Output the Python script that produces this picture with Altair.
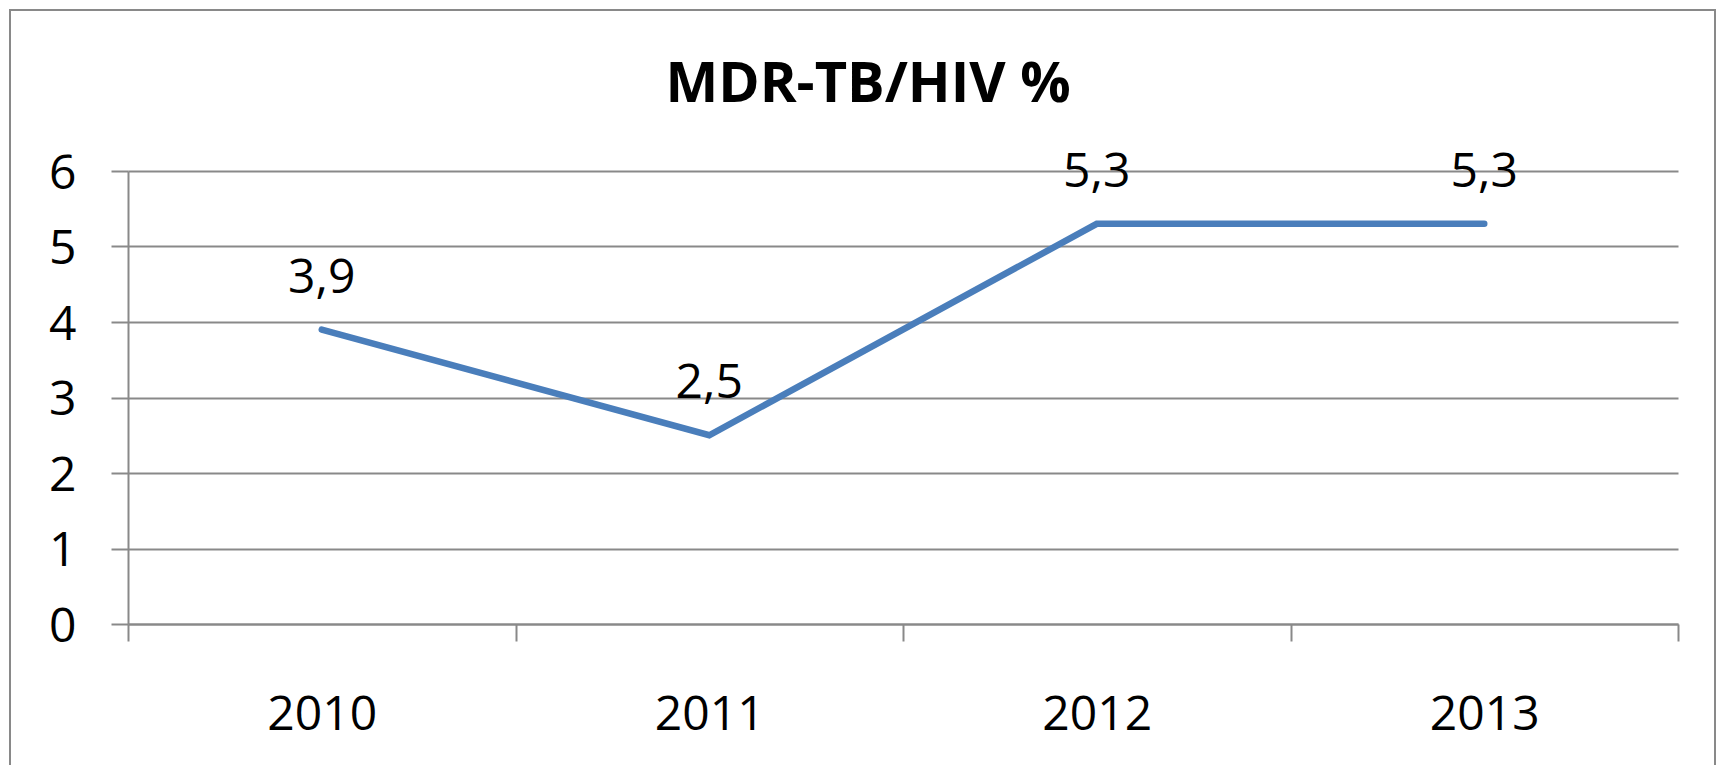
import altair as alt
import pandas as pd

years = ["2010", "2011", "2012", "2013"]
values = [3.9, 2.5, 5.3, 5.3]
value_labels = ["3,9", "2,5", "5,3", "5,3"]
y_ticks = [0, 1, 2, 3, 4, 5, 6]

df = pd.DataFrame({"year": years, "value": values, "label": value_labels})

GRAY = "#898989"
FONT = "Open Sans"
BLUE = "#4A7EBB"

x_enc = alt.X(
    "year:O",
    scale=alt.Scale(type="band", paddingInner=0, paddingOuter=0),
    bandPosition=0.5,
    axis=alt.Axis(
        title=None, labelAngle=0, labelFontSize=48, labelFont=FONT,
        labelColor="black", labelPadding=50, tickBand="extent", tickSize=17,
        tickColor=GRAY, tickWidth=2, domainColor=GRAY, domainWidth=2, grid=False,
    ),
)
y_enc = alt.Y(
    "value:Q",
    scale=alt.Scale(domain=[0, 6], nice=False),
    axis=alt.Axis(
        values=y_ticks, title=None, labelFontSize=48, labelFont=FONT,
        labelColor="black", labelPadding=35, tickSize=17, tickColor=GRAY,
        tickWidth=2, domainColor=GRAY, domainWidth=2, gridColor=GRAY,
        gridWidth=2, format="d", labelOffset=3,
    ),
)

base = alt.Chart(df)

line = base.mark_line(color=BLUE, strokeWidth=6.5, strokeCap="round",
                      strokeJoin="miter").encode(x=x_enc, y=y_enc)
labels = base.mark_text(font=FONT, fontSize=48, baseline="alphabetic", dy=-37,
                        color="black").encode(x=x_enc, y=y_enc, text="label:N")

border = alt.Chart(pd.DataFrame({"k": [0]})).mark_rect(
    fill=None, stroke=GRAY, strokeWidth=2
).encode(
    x=alt.value(-118), x2=alt.value(1587),
    y=alt.value(-161), y2=alt.value(700),
)

chart = alt.layer(border, line, labels).properties(
    width=1550,
    height=453,
    title=alt.TitleParams(
        "MDR-TB/HIV %", font=FONT, fontSize=56, fontWeight="bold",
        color="black", anchor="middle", dx=-35, offset=-149,
        baseline="alphabetic",
    ),
    autosize=alt.AutoSizeParams(type="none"),
    padding={"left": 120, "top": 163, "right": 39, "bottom": 141},
).configure(
    background="white",
    view=alt.ViewConfig(stroke=None),
)

chart.save("out.html", embed_options={"renderer": "svg", "actions": False})
